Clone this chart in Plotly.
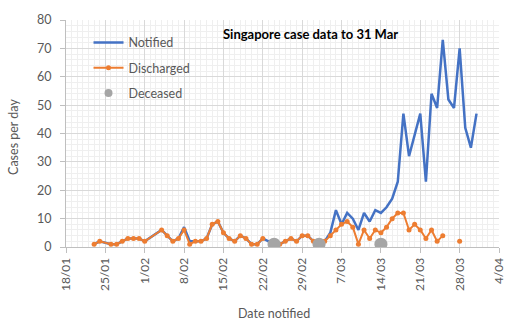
import plotly.graph_objects as go
import pandas as pd

# ---- data (daily, 23 Jan - 31 Mar 2020) ----
dates = pd.date_range("2020-01-23", "2020-03-31").strftime("%Y-%m-%d").tolist()

# None = no cases notified that day (line is bridged)
notified = [1, 2, None, 1, 1, 2, 3, 3, 3,            # 23-31 Jan
            2, None, None, 6, 4, 2, 3, 7, 2, 2, 2, 3, 8, 9, 5, 3, 2, 4, 3, 1, 1, 3,
            None, 1, 1, 2, 3, 2, 4,                      # Feb
            4, 2, 2, 2, 5, 13, 8, 12, 10, 6, 12, 9, 13, 12, 14, 17, 23, 47, 32, 40,
            47, 23, 54, 49, 73, 52, 49, 70, 42, 35, 47]  # Mar

# None on a notified day = none discharged yet (line broken)
discharged = [1, 2, None, 1, 1, 2, 3, 3, 3,
              2, None, None, 6, 4, 2, 3, 6, 1, 2, 2, 3, 8, 9, 5, 3, 2, 4, 3, 1, 1, 3,
              None, None, 1, 2, 3, 2, 4,
              4, 2, 1, 2, 4, 6, 8, 9, 7, 1, 6, 3, 6, 5, 7, 10, 12, 12, 6, 8,
              6, 3, 6, 2, 4, None, None, 2, None, None, None]

deceased_dates = ["2020-02-24", "2020-03-03", "2020-03-14"]
deceased = [1, 1, 1]

x_ticks_start = "2020-01-18"
x_end = "2020-04-04"

# ---- build series ----
n_x = [d for d, v in zip(dates, notified) if v is not None]
n_y = [v for v in notified if v is not None]
d_x = [d for d, v in zip(dates, notified) if v is not None]
d_y = [dv for dv, v in zip(discharged, notified) if v is not None]

FONT = "Lato"
GREY_TXT = "#595959"

fig = go.Figure()
fig.add_trace(go.Scatter(x=n_x, y=n_y, mode="lines", name="Notified",
                         line=dict(color="#4472C4", width=2.5),
                         legendgroup="a"))
fig.add_trace(go.Scatter(x=d_x, y=d_y, mode="lines+markers", name="Discharged",
                         line=dict(color="#ED7D31", width=2),
                         marker=dict(color="#ED7D31", size=5),
                         connectgaps=False, legendgroup="b"))
fig.add_trace(go.Scatter(x=deceased_dates, y=deceased, mode="markers", name="Deceased",
                         marker=dict(color="#A5A5A5", size=13),
                         showlegend=False))
fig.add_trace(go.Scatter(x=[None], y=[None], mode="markers", name="Deceased",
                         marker=dict(color="#A5A5A5", size=8), legendgroup="c"))

fig.update_layout(
    width=520, height=329,
    margin=dict(l=66, r=21, t=16, b=82),
    plot_bgcolor="white", paper_bgcolor="white",
    font=dict(family=FONT, size=12, color=GREY_TXT),
    showlegend=True,
    legend=dict(x=0.052, y=0.965, xanchor="left", yanchor="top",
                bgcolor="rgba(0,0,0,0)", font=dict(family=FONT, size=12.5, color=GREY_TXT),
                tracegroupgap=6, itemwidth=30),
    xaxis=dict(type="date", range=[x_ticks_start, x_end],
               tick0=x_ticks_start, dtick=7 * 86400000, tickformat="%-d/%m",
               tickangle=-90, ticks="outside", ticklen=5, tickcolor="#BFBFBF",
               showline=True, linecolor="#BFBFBF", linewidth=1,
               showgrid=True, gridcolor="#D9D9D9", gridwidth=1,
               minor=dict(dtick=86400000, showgrid=True, gridcolor="#EFEFEF", gridwidth=1),
               tickfont=dict(family=FONT, size=12, color=GREY_TXT), zeroline=False),
    yaxis=dict(range=[0, 80], dtick=10, ticks="outside", ticklen=5, tickcolor="#BFBFBF",
               showline=True, linecolor="#BFBFBF", linewidth=1,
               showgrid=True, gridcolor="#D9D9D9", gridwidth=1,
               minor=dict(dtick=2, showgrid=True, gridcolor="#EFEFEF", gridwidth=1),
               tickfont=dict(family=FONT, size=12.5, color=GREY_TXT), zeroline=False,
               ticklabelstandoff=6),
)

fig.add_annotation(text="<b>Singapore case data to 31 Mar</b>", xref="paper", yref="paper",
                   x=(310 - 66) / 433, y=(247 - 30) / 231, showarrow=False,
                   xanchor="center", yanchor="middle",
                   font=dict(family=FONT, size=13, color="black"))
fig.add_annotation(text="Date notified", xref="paper", yref="paper",
                   x=(274 - 66) / 433, y=(247 - 315) / 231, showarrow=False,
                   xanchor="center", yanchor="middle",
                   font=dict(family=FONT, size=12.5, color=GREY_TXT))
fig.add_annotation(text="Cases per day", xref="paper", yref="paper", textangle=-90,
                   x=(14 - 66) / 433, y=(247 - 135) / 231, showarrow=False,
                   xanchor="center", yanchor="middle",
                   font=dict(family=FONT, size=12.5, color=GREY_TXT))

fig.write_html("out.html")
